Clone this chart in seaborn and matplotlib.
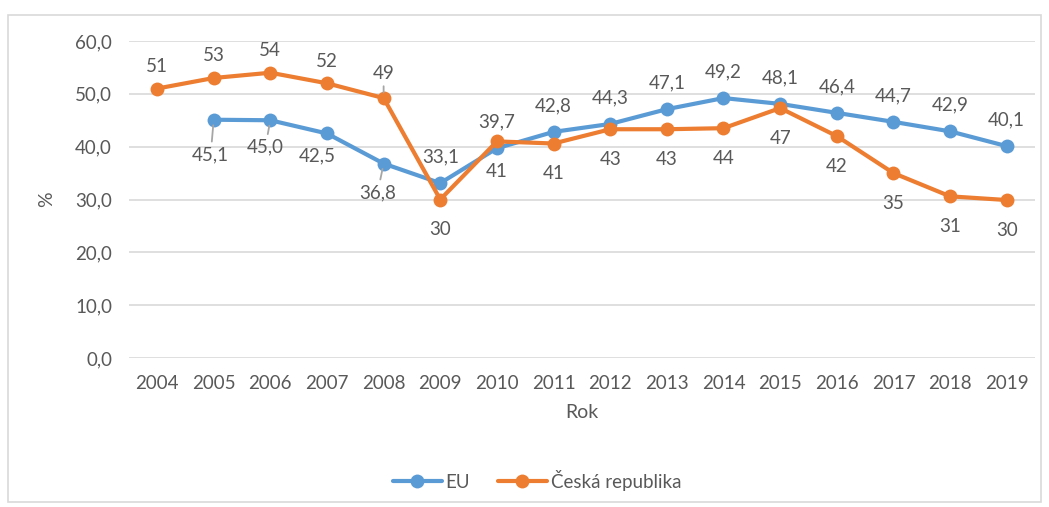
import matplotlib
matplotlib.use('Agg')
import numpy as np
import pandas as pd
import seaborn as sns
import matplotlib.pyplot as plt
from matplotlib.patches import Rectangle
from matplotlib.ticker import FuncFormatter

# data
roky = list(range(2004, 2020))
eu_roky = list(range(2005, 2020))
eu = [45.1, 45.0, 42.5, 36.8, 33.1, 39.7, 42.8, 44.3, 47.1, 49.2, 48.1, 46.4, 44.7, 42.9, 40.1]
cz = [51.0, 53.0, 54.0, 52.0, 49.2, 30.0, 41.0, 40.6, 43.3, 43.3, 43.5, 47.3, 42.0, 35.0, 30.6, 29.9]
cz_labels = ['51', '53', '54', '52', '49', '30', '41', '41', '43', '43', '44', '47', '42', '35', '31', '30']

# label offsets in pixels (dx, dy) -- position only
eu_off = [(-3, -35), (-5, -27), (-10, -22), (-6, -29)] + [(0, 26)] * 11
cz_off = [(0, 22)] * 4 + [(0, 25)] + [(0, -30)] * 11
eu_leader = [0, 1, 3]
cz_leader = [4]

BLUE = '#5B9BD5'
ORANGE = '#ED7D31'
TXT = '#595959'

df = pd.concat([
    pd.DataFrame({'Rok': eu_roky, 'hodnota': eu, 'serie': 'EU'}),
    pd.DataFrame({'Rok': roky, 'hodnota': cz, 'serie': 'Česká republika'}),
])

sns.set_theme(style='white')
plt.rcParams['font.family'] = ['Lato', 'DejaVu Sans']
plt.rcParams['text.color'] = TXT

fig = plt.figure(figsize=(10.49, 5.07), dpi=100)
ax = fig.add_axes([0.1227, 0.2939, 0.864, 0.6252])

sns.lineplot(data=df, x='Rok', y='hodnota', hue='serie', palette=[BLUE, ORANGE],
             marker='o', markersize=10, markeredgewidth=0, linewidth=3,
             ax=ax, zorder=3)

ax.set_xlim(2003.5, 2019.5)
ax.set_ylim(0, 60)
ax.set_xticks(roky)
ax.set_yticks(range(0, 61, 10))
ax.yaxis.set_major_formatter(FuncFormatter(lambda v, p: f'{v:.1f}'.replace('.', ',')))
ax.tick_params(axis='both', length=0, labelsize=13.5, labelcolor=TXT)
ax.tick_params(axis='y', pad=12)
ax.tick_params(axis='x', pad=12)
ax.grid(axis='y', color='#D9D9D9', linewidth=1.2, zorder=0)
ax.set_axisbelow(True)
for s in ax.spines.values():
    s.set_visible(False)
ax.set_xlabel('Rok', fontsize=14, color=TXT, labelpad=9)
ax.set_ylabel('%', fontsize=14, color=TXT, labelpad=14)


def popisky(xs, ys, texts, offs, leaders):
    for i, (x, y, t, o) in enumerate(zip(xs, ys, texts, offs)):
        kw = {}
        if i in leaders:
            kw['arrowprops'] = dict(arrowstyle='-', color='#A6A6A6', lw=1.3,
                                    shrinkA=1, shrinkB=4)
        ax.annotate(t, (x, y), xytext=o, textcoords='offset pixels',
                    ha='center', va='center', fontsize=13.5, color=TXT, **kw)


popisky(eu_roky, eu, [f'{v:.1f}'.replace('.', ',') for v in eu], eu_off, eu_leader)
popisky(roky, cz, cz_labels, cz_off, cz_leader)

sns.move_legend(ax, 'center', bbox_to_anchor=(0.4505, -0.385), ncol=2, title=None,
                frameon=False, fontsize=13.5, handlelength=2.6, columnspacing=1.5,
                handletextpad=0.2)

fig.patches.append(Rectangle((8 / 1049, 1 - 502 / 507), 1033 / 1049, 487 / 507,
                             transform=fig.transFigure, fill=False,
                             edgecolor='#D9D9D9', linewidth=1.2))

fig.savefig('out.png', dpi=100)
